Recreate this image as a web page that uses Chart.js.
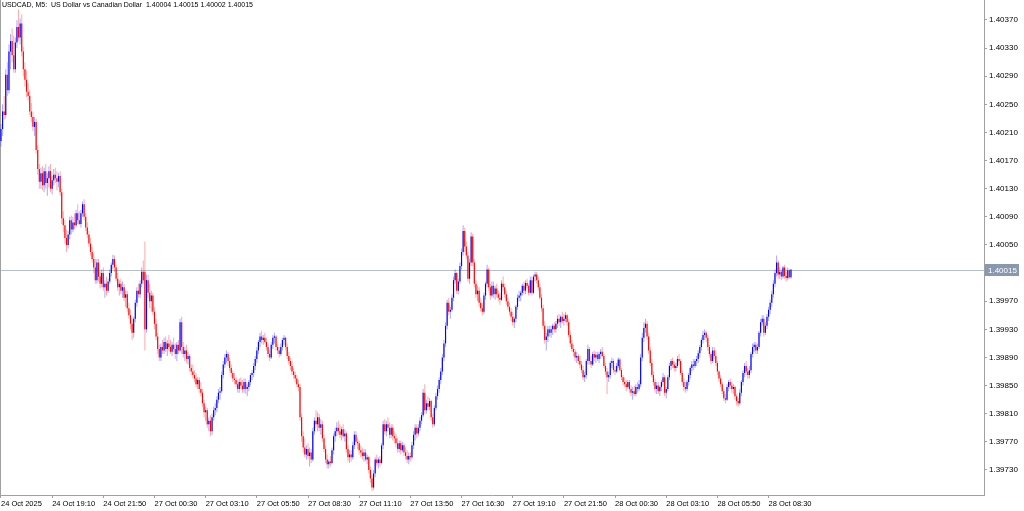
<!DOCTYPE html>
<html>
<head>
<meta charset="utf-8">
<title>USDCAD M5</title>
<script src="https://cdn.jsdelivr.net/npm/chart.js@4.4.1/dist/chart.umd.min.js"></script>
<style>
  html, body { margin: 0; padding: 0; background: #fff; }
  #wrap { width: 1024px; height: 511px; position: relative; }
</style>
</head>
<body>
<div id="wrap"><canvas id="chart"></canvas></div>
<script>
const symbolTitle = 'USDCAD, M5:  US Dollar vs Canadian Dollar  1.40004 1.40015 1.40002 1.40015';
const lastPrice = 1.40015;

// 5 minute bars, 24 Oct 16:30 .. 28 Oct 09:40 (one bar per entry)
const opens = [
  1.40198,1.40215,1.40240,1.40235,1.40292,1.40270,1.40325,1.40340,1.40320,1.40300,
  1.40338,1.40360,1.40345,1.40365,1.40325,1.40300,1.40285,1.40268,1.40262,1.40240,
  1.40232,1.40218,1.40225,1.40185,1.40158,1.40140,1.40152,1.40135,1.40155,1.40138,
  1.40145,1.40155,1.40130,1.40142,1.40150,1.40145,1.40140,1.40148,1.40125,1.40088,
  1.40078,1.40060,1.40050,1.40065,1.40085,1.40072,1.40082,1.40078,1.40095,1.40085,
  1.40080,1.40095,1.40108,1.40090,1.40075,1.40065,1.40052,1.40040,1.40030,1.40018,
  1.40000,1.40025,1.40005,1.39995,1.40010,1.39990,1.39995,1.39985,1.39998,1.40010,
  1.40022,1.40030,1.40018,1.40002,1.39990,1.39995,1.39985,1.39990,1.39975,1.39980,
  1.39960,1.39950,1.39938,1.39925,1.39945,1.39968,1.39985,1.39980,1.39995,1.40012,
  1.40012,1.39930,1.40000,1.39982,1.39970,1.39978,1.39955,1.39938,1.39920,1.39902,
  1.39890,1.39905,1.39900,1.39912,1.39902,1.39910,1.39905,1.39898,1.39908,1.39902,
  1.39895,1.39908,1.39900,1.39940,1.39905,1.39895,1.39900,1.39888,1.39892,1.39875,
  1.39870,1.39865,1.39860,1.39852,1.39858,1.39845,1.39840,1.39825,1.39812,1.39815,
  1.39795,1.39800,1.39785,1.39805,1.39815,1.39818,1.39830,1.39840,1.39842,1.39865,
  1.39880,1.39890,1.39895,1.39885,1.39875,1.39868,1.39860,1.39858,1.39852,1.39845,
  1.39855,1.39850,1.39845,1.39855,1.39845,1.39848,1.39855,1.39865,1.39868,1.39878,
  1.39888,1.39900,1.39912,1.39920,1.39915,1.39918,1.39912,1.39905,1.39895,1.39890,
  1.39908,1.39918,1.39920,1.39905,1.39900,1.39895,1.39905,1.39915,1.39918,1.39905,
  1.39892,1.39885,1.39878,1.39870,1.39865,1.39860,1.39852,1.39848,1.39805,1.39778,
  1.39762,1.39752,1.39760,1.39750,1.39755,1.39745,1.39785,1.39800,1.39795,1.39805,
  1.39790,1.39795,1.39775,1.39760,1.39745,1.39738,1.39742,1.39740,1.39758,1.39778,
  1.39785,1.39790,1.39785,1.39780,1.39788,1.39778,1.39782,1.39760,1.39748,1.39752,
  1.39748,1.39765,1.39780,1.39770,1.39768,1.39758,1.39755,1.39750,1.39755,1.39745,
  1.39748,1.39730,1.39718,1.39705,1.39725,1.39745,1.39740,1.39745,1.39740,1.39765,
  1.39795,1.39785,1.39795,1.39790,1.39780,1.39790,1.39778,1.39775,1.39768,1.39760,
  1.39768,1.39758,1.39765,1.39755,1.39750,1.39745,1.39750,1.39748,1.39765,1.39780,
  1.39790,1.39782,1.39790,1.39800,1.39808,1.39840,1.39815,1.39825,1.39820,1.39828,
  1.39805,1.39795,1.39818,1.39835,1.39845,1.39858,1.39870,1.39890,1.39910,1.39935,
  1.39968,1.39955,1.39958,1.39975,1.40000,1.40010,1.39985,1.39998,1.40020,1.40040,
  1.40070,1.40048,1.40035,1.40002,1.40025,1.40062,1.40025,1.39995,1.39980,1.39985,
  1.39968,1.39960,1.39955,1.39978,1.39995,1.40015,1.39990,1.39978,1.39992,1.39980,
  1.39988,1.39980,1.39975,1.39972,1.39995,1.39990,1.39980,1.39970,1.39962,1.39955,
  1.39948,1.39940,1.39945,1.39962,1.39975,1.39978,1.39982,1.39992,1.39985,1.39996,
  1.39992,1.39982,1.40000,1.39982,1.40005,1.40008,1.40000,1.39990,1.39975,1.39960,
  1.39935,1.39915,1.39920,1.39930,1.39925,1.39930,1.39935,1.39930,1.39938,1.39945,
  1.39940,1.39948,1.39942,1.39945,1.39950,1.39940,1.39922,1.39910,1.39902,1.39898,
  1.39890,1.39892,1.39885,1.39880,1.39872,1.39862,1.39865,1.39885,1.39902,1.39885,
  1.39880,1.39895,1.39890,1.39894,1.39888,1.39895,1.39898,1.39892,1.39878,1.39870,
  1.39862,1.39865,1.39882,1.39885,1.39872,1.39870,1.39878,1.39887,1.39872,1.39862,
  1.39855,1.39852,1.39848,1.39855,1.39845,1.39840,1.39842,1.39838,1.39848,1.39845,
  1.39852,1.39890,1.39918,1.39932,1.39938,1.39920,1.39900,1.39882,1.39865,1.39855,
  1.39845,1.39850,1.39842,1.39848,1.39855,1.39862,1.39840,1.39845,1.39862,1.39878,
  1.39885,1.39880,1.39875,1.39878,1.39888,1.39885,1.39868,1.39855,1.39848,1.39845,
  1.39855,1.39865,1.39875,1.39880,1.39878,1.39885,1.39888,1.39896,1.39905,1.39915,
  1.39922,1.39925,1.39918,1.39905,1.39895,1.39885,1.39900,1.39892,1.39882,1.39870,
  1.39860,1.39852,1.39842,1.39832,1.39830,1.39848,1.39855,1.39850,1.39845,1.39848,
  1.39835,1.39828,1.39825,1.39840,1.39855,1.39868,1.39878,1.39870,1.39865,1.39872,
  1.39895,1.39905,1.39908,1.39900,1.39905,1.39925,1.39940,1.39945,1.39925,1.39935,
  1.39948,1.39958,1.39968,1.39980,1.39995,1.40010,1.40025,1.40008,1.40012,1.40005,
  1.40018,1.40006,1.40003,1.40014,1.40004
];

const highs = [
  1.40222,1.40250,1.40262,1.40300,1.40310,1.40335,1.40350,1.40358,1.40348,1.40345,
  1.40370,1.40385,1.40372,1.40378,1.40332,1.40310,1.40298,1.40280,1.40270,1.40252,
  1.40240,1.40232,1.40230,1.40192,1.40165,1.40160,1.40162,1.40160,1.40165,1.40152,
  1.40162,1.40165,1.40148,1.40158,1.40160,1.40155,1.40152,1.40155,1.40130,1.40098,
  1.40085,1.40072,1.40070,1.40090,1.40092,1.40090,1.40095,1.40100,1.40108,1.40098,
  1.40100,1.40112,1.40115,1.40095,1.40082,1.40070,1.40060,1.40048,1.40038,1.40030,
  1.40030,1.40030,1.40012,1.40015,1.40018,1.40000,1.40005,1.40002,1.40015,1.40025,
  1.40036,1.40035,1.40022,1.40010,1.40000,1.40002,1.39998,1.39995,1.39985,1.39985,
  1.39968,1.39958,1.39945,1.39948,1.39972,1.39990,1.39995,1.40000,1.40018,1.40028,
  1.40055,1.40008,1.40008,1.39995,1.39985,1.39982,1.39962,1.39945,1.39925,1.39908,
  1.39910,1.39915,1.39918,1.39920,1.39915,1.39922,1.39915,1.39912,1.39918,1.39910,
  1.39912,1.39915,1.39945,1.39948,1.39912,1.39905,1.39908,1.39898,1.39895,1.39880,
  1.39880,1.39872,1.39868,1.39862,1.39862,1.39855,1.39845,1.39830,1.39820,1.39818,
  1.39805,1.39808,1.39810,1.39820,1.39825,1.39835,1.39845,1.39848,1.39870,1.39885,
  1.39895,1.39900,1.39898,1.39890,1.39880,1.39872,1.39868,1.39862,1.39858,1.39860,
  1.39862,1.39858,1.39860,1.39860,1.39852,1.39858,1.39868,1.39872,1.39882,1.39892,
  1.39905,1.39915,1.39925,1.39928,1.39922,1.39925,1.39918,1.39910,1.39900,1.39912,
  1.39922,1.39925,1.39922,1.39910,1.39905,1.39910,1.39918,1.39922,1.39920,1.39910,
  1.39898,1.39890,1.39885,1.39875,1.39870,1.39865,1.39858,1.39852,1.39810,1.39785,
  1.39775,1.39765,1.39768,1.39762,1.39760,1.39790,1.39805,1.39815,1.39812,1.39810,
  1.39802,1.39800,1.39780,1.39765,1.39752,1.39745,1.39750,1.39762,1.39782,1.39790,
  1.39798,1.39800,1.39795,1.39792,1.39795,1.39788,1.39785,1.39765,1.39758,1.39758,
  1.39770,1.39785,1.39785,1.39775,1.39772,1.39765,1.39762,1.39760,1.39760,1.39752,
  1.39750,1.39735,1.39722,1.39730,1.39748,1.39752,1.39748,1.39750,1.39768,1.39800,
  1.39802,1.39800,1.39805,1.39798,1.39795,1.39795,1.39785,1.39782,1.39775,1.39772,
  1.39772,1.39770,1.39768,1.39762,1.39758,1.39755,1.39755,1.39770,1.39785,1.39795,
  1.39795,1.39795,1.39805,1.39812,1.39845,1.39852,1.39830,1.39835,1.39832,1.39830,
  1.39810,1.39822,1.39840,1.39850,1.39862,1.39875,1.39895,1.39915,1.39940,1.39972,
  1.39975,1.39962,1.39980,1.40005,1.40015,1.40012,1.40002,1.40025,1.40045,1.40078,
  1.40075,1.40055,1.40040,1.40030,1.40068,1.40066,1.40030,1.40000,1.39992,1.39990,
  1.39975,1.39968,1.39982,1.39998,1.40022,1.40018,1.39995,1.39998,1.39998,1.39992,
  1.39995,1.39985,1.39982,1.40000,1.40005,1.39995,1.39985,1.39975,1.39968,1.39960,
  1.39955,1.39948,1.39965,1.39980,1.39985,1.39985,1.39995,1.39998,1.40000,1.40002,
  1.39995,1.40005,1.40005,1.40008,1.40012,1.40012,1.40005,1.39995,1.39980,1.39965,
  1.39942,1.39925,1.39935,1.39935,1.39935,1.39938,1.39940,1.39942,1.39950,1.39952,
  1.39950,1.39955,1.39952,1.39955,1.39952,1.39945,1.39928,1.39915,1.39908,1.39902,
  1.39898,1.39895,1.39892,1.39885,1.39878,1.39870,1.39888,1.39908,1.39905,1.39892,
  1.39898,1.39900,1.39898,1.39898,1.39898,1.39902,1.39905,1.39895,1.39882,1.39875,
  1.39870,1.39885,1.39890,1.39888,1.39878,1.39882,1.39890,1.39890,1.39875,1.39865,
  1.39862,1.39858,1.39858,1.39858,1.39850,1.39848,1.39850,1.39852,1.39855,1.39858,
  1.39895,1.39925,1.39940,1.39945,1.39942,1.39925,1.39905,1.39888,1.39870,1.39860,
  1.39855,1.39855,1.39850,1.39858,1.39868,1.39865,1.39848,1.39865,1.39882,1.39888,
  1.39890,1.39885,1.39882,1.39892,1.39895,1.39888,1.39872,1.39860,1.39855,1.39858,
  1.39868,1.39878,1.39885,1.39888,1.39888,1.39892,1.39900,1.39908,1.39918,1.39928,
  1.39930,1.39928,1.39922,1.39908,1.39898,1.39905,1.39905,1.39900,1.39885,1.39872,
  1.39865,1.39855,1.39845,1.39838,1.39852,1.39858,1.39860,1.39855,1.39852,1.39850,
  1.39838,1.39832,1.39845,1.39858,1.39872,1.39882,1.39885,1.39875,1.39878,1.39898,
  1.39910,1.39912,1.39912,1.39910,1.39928,1.39945,1.39950,1.39950,1.39940,1.39952,
  1.39962,1.39972,1.39985,1.40000,1.40015,1.40035,1.40028,1.40018,1.40015,1.40020,
  1.40022,1.40012,1.40018,1.40016,1.40015
];

const lows = [
  1.40190,1.40205,1.40228,1.40230,1.40262,1.40265,1.40300,1.40310,1.40295,1.40295,
  1.40330,1.40340,1.40335,1.40318,1.40290,1.40275,1.40260,1.40255,1.40235,1.40225,
  1.40212,1.40205,1.40180,1.40150,1.40130,1.40130,1.40128,1.40125,1.40130,1.40120,
  1.40132,1.40125,1.40122,1.40135,1.40138,1.40128,1.40132,1.40120,1.40080,1.40068,
  1.40052,1.40040,1.40045,1.40058,1.40065,1.40068,1.40072,1.40075,1.40080,1.40078,
  1.40075,1.40090,1.40085,1.40070,1.40060,1.40048,1.40035,1.40025,1.40010,1.39995,
  1.39995,1.39998,1.39988,1.39990,1.39985,1.39975,1.39978,1.39982,1.39995,1.40005,
  1.40015,1.40012,1.39998,1.39985,1.39978,1.39980,1.39975,1.39970,1.39962,1.39955,
  1.39945,1.39930,1.39915,1.39918,1.39940,1.39962,1.39975,1.39975,1.39990,1.39995,
  1.39900,1.39925,1.39975,1.39960,1.39955,1.39950,1.39930,1.39915,1.39895,1.39885,
  1.39885,1.39895,1.39895,1.39898,1.39892,1.39900,1.39895,1.39892,1.39898,1.39888,
  1.39885,1.39895,1.39898,1.39895,1.39890,1.39885,1.39882,1.39880,1.39870,1.39865,
  1.39860,1.39855,1.39848,1.39845,1.39840,1.39835,1.39820,1.39805,1.39800,1.39790,
  1.39785,1.39778,1.39780,1.39800,1.39808,1.39812,1.39825,1.39830,1.39840,1.39860,
  1.39875,1.39882,1.39878,1.39870,1.39862,1.39855,1.39852,1.39848,1.39840,1.39840,
  1.39845,1.39840,1.39840,1.39838,1.39835,1.39842,1.39850,1.39858,1.39862,1.39872,
  1.39882,1.39895,1.39905,1.39910,1.39908,1.39910,1.39900,1.39890,1.39885,1.39888,
  1.39902,1.39910,1.39900,1.39895,1.39890,1.39892,1.39900,1.39908,1.39900,1.39888,
  1.39880,1.39872,1.39865,1.39860,1.39855,1.39848,1.39842,1.39800,1.39770,1.39755,
  1.39748,1.39745,1.39745,1.39735,1.39740,1.39742,1.39780,1.39790,1.39785,1.39785,
  1.39780,1.39770,1.39755,1.39740,1.39732,1.39732,1.39735,1.39738,1.39752,1.39770,
  1.39778,1.39780,1.39775,1.39772,1.39775,1.39770,1.39755,1.39742,1.39740,1.39742,
  1.39745,1.39760,1.39765,1.39760,1.39752,1.39748,1.39745,1.39742,1.39742,1.39738,
  1.39725,1.39712,1.39700,1.39702,1.39720,1.39735,1.39732,1.39735,1.39738,1.39760,
  1.39780,1.39778,1.39785,1.39775,1.39775,1.39772,1.39768,1.39762,1.39755,1.39755,
  1.39752,1.39755,1.39750,1.39745,1.39740,1.39738,1.39742,1.39745,1.39760,1.39772,
  1.39775,1.39778,1.39785,1.39795,1.39805,1.39810,1.39810,1.39815,1.39815,1.39800,
  1.39790,1.39792,1.39815,1.39830,1.39840,1.39852,1.39865,1.39885,1.39905,1.39930,
  1.39950,1.39945,1.39955,1.39970,1.39995,1.39980,1.39980,1.39995,1.40015,1.40035,
  1.40040,1.40030,1.39998,1.39995,1.40020,1.40020,1.39990,1.39975,1.39970,1.39962,
  1.39955,1.39950,1.39952,1.39972,1.39990,1.39985,1.39972,1.39975,1.39975,1.39972,
  1.39975,1.39970,1.39965,1.39970,1.39985,1.39975,1.39965,1.39958,1.39950,1.39942,
  1.39935,1.39932,1.39940,1.39958,1.39970,1.39970,1.39978,1.39980,1.39980,1.39988,
  1.39978,1.39980,1.39978,1.39980,1.39998,1.39995,1.39985,1.39972,1.39955,1.39930,
  1.39910,1.39900,1.39912,1.39920,1.39918,1.39922,1.39925,1.39925,1.39932,1.39935,
  1.39932,1.39938,1.39935,1.39940,1.39935,1.39918,1.39905,1.39898,1.39892,1.39885,
  1.39882,1.39880,1.39875,1.39868,1.39858,1.39855,1.39860,1.39880,1.39880,1.39875,
  1.39878,1.39885,1.39882,1.39885,1.39882,1.39888,1.39890,1.39875,1.39865,1.39838,
  1.39855,1.39860,1.39875,1.39868,1.39865,1.39868,1.39875,1.39870,1.39858,1.39850,
  1.39848,1.39842,1.39845,1.39840,1.39835,1.39830,1.39835,1.39835,1.39840,1.39842,
  1.39848,1.39885,1.39912,1.39925,1.39915,1.39895,1.39878,1.39862,1.39850,1.39840,
  1.39838,1.39838,1.39835,1.39842,1.39850,1.39835,1.39832,1.39842,1.39858,1.39872,
  1.39875,1.39870,1.39870,1.39875,1.39880,1.39865,1.39850,1.39842,1.39840,1.39842,
  1.39850,1.39860,1.39870,1.39872,1.39875,1.39878,1.39882,1.39890,1.39900,1.39910,
  1.39915,1.39912,1.39900,1.39890,1.39880,1.39882,1.39888,1.39878,1.39865,1.39855,
  1.39848,1.39838,1.39828,1.39825,1.39828,1.39842,1.39845,1.39840,1.39838,1.39830,
  1.39822,1.39820,1.39822,1.39835,1.39850,1.39862,1.39865,1.39860,1.39860,1.39868,
  1.39890,1.39898,1.39895,1.39895,1.39902,1.39920,1.39935,1.39920,1.39922,1.39930,
  1.39942,1.39952,1.39962,1.39975,1.39990,1.40005,1.40002,1.40002,1.40000,1.40002,
  1.40002,1.39998,1.40000,1.40002,1.40002
];

const closes = [
  1.40215,1.40240,1.40235,1.40292,1.40270,1.40325,1.40340,1.40320,1.40300,1.40338,
  1.40360,1.40345,1.40365,1.40325,1.40300,1.40285,1.40268,1.40262,1.40240,1.40232,
  1.40218,1.40225,1.40185,1.40158,1.40140,1.40152,1.40135,1.40155,1.40138,1.40145,
  1.40155,1.40130,1.40142,1.40150,1.40145,1.40140,1.40148,1.40125,1.40088,1.40078,
  1.40060,1.40050,1.40065,1.40085,1.40072,1.40082,1.40078,1.40095,1.40085,1.40080,
  1.40095,1.40108,1.40090,1.40075,1.40065,1.40052,1.40040,1.40030,1.40018,1.40000,
  1.40025,1.40005,1.39995,1.40010,1.39990,1.39995,1.39985,1.39998,1.40010,1.40022,
  1.40030,1.40018,1.40002,1.39990,1.39995,1.39985,1.39990,1.39975,1.39980,1.39960,
  1.39950,1.39938,1.39925,1.39945,1.39968,1.39985,1.39980,1.39995,1.40012,1.40000,
  1.39930,1.40000,1.39982,1.39970,1.39978,1.39955,1.39938,1.39920,1.39902,1.39890,
  1.39905,1.39900,1.39912,1.39902,1.39910,1.39905,1.39898,1.39908,1.39902,1.39895,
  1.39908,1.39900,1.39940,1.39905,1.39895,1.39900,1.39888,1.39892,1.39875,1.39870,
  1.39865,1.39860,1.39852,1.39858,1.39845,1.39840,1.39825,1.39812,1.39815,1.39795,
  1.39800,1.39785,1.39805,1.39815,1.39818,1.39830,1.39840,1.39842,1.39865,1.39880,
  1.39890,1.39895,1.39885,1.39875,1.39868,1.39860,1.39858,1.39852,1.39845,1.39855,
  1.39850,1.39845,1.39855,1.39845,1.39848,1.39855,1.39865,1.39868,1.39878,1.39888,
  1.39900,1.39912,1.39920,1.39915,1.39918,1.39912,1.39905,1.39895,1.39890,1.39908,
  1.39918,1.39920,1.39905,1.39900,1.39895,1.39905,1.39915,1.39918,1.39905,1.39892,
  1.39885,1.39878,1.39870,1.39865,1.39860,1.39852,1.39848,1.39805,1.39778,1.39762,
  1.39752,1.39760,1.39750,1.39755,1.39745,1.39785,1.39800,1.39795,1.39805,1.39790,
  1.39795,1.39775,1.39760,1.39745,1.39738,1.39742,1.39740,1.39758,1.39778,1.39785,
  1.39790,1.39785,1.39780,1.39788,1.39778,1.39782,1.39760,1.39748,1.39752,1.39748,
  1.39765,1.39780,1.39770,1.39768,1.39758,1.39755,1.39750,1.39755,1.39745,1.39748,
  1.39730,1.39718,1.39705,1.39725,1.39745,1.39740,1.39745,1.39740,1.39765,1.39795,
  1.39785,1.39795,1.39790,1.39780,1.39790,1.39778,1.39775,1.39768,1.39760,1.39768,
  1.39758,1.39765,1.39755,1.39750,1.39745,1.39750,1.39748,1.39765,1.39780,1.39790,
  1.39782,1.39790,1.39800,1.39808,1.39840,1.39815,1.39825,1.39820,1.39828,1.39805,
  1.39795,1.39818,1.39835,1.39845,1.39858,1.39870,1.39890,1.39910,1.39935,1.39968,
  1.39955,1.39958,1.39975,1.40000,1.40010,1.39985,1.39998,1.40020,1.40040,1.40070,
  1.40048,1.40035,1.40002,1.40025,1.40062,1.40025,1.39995,1.39980,1.39985,1.39968,
  1.39960,1.39955,1.39978,1.39995,1.40015,1.39990,1.39978,1.39992,1.39980,1.39988,
  1.39980,1.39975,1.39972,1.39995,1.39990,1.39980,1.39970,1.39962,1.39955,1.39948,
  1.39940,1.39945,1.39962,1.39975,1.39978,1.39982,1.39992,1.39985,1.39996,1.39992,
  1.39982,1.40000,1.39982,1.40005,1.40008,1.40000,1.39990,1.39975,1.39960,1.39935,
  1.39915,1.39920,1.39930,1.39925,1.39930,1.39935,1.39930,1.39938,1.39945,1.39940,
  1.39948,1.39942,1.39945,1.39950,1.39940,1.39922,1.39910,1.39902,1.39898,1.39890,
  1.39892,1.39885,1.39880,1.39872,1.39862,1.39865,1.39885,1.39902,1.39885,1.39880,
  1.39895,1.39890,1.39894,1.39888,1.39895,1.39898,1.39892,1.39878,1.39870,1.39862,
  1.39865,1.39882,1.39885,1.39872,1.39870,1.39878,1.39887,1.39872,1.39862,1.39855,
  1.39852,1.39848,1.39855,1.39845,1.39840,1.39842,1.39838,1.39848,1.39845,1.39852,
  1.39890,1.39918,1.39932,1.39938,1.39920,1.39900,1.39882,1.39865,1.39855,1.39845,
  1.39850,1.39842,1.39848,1.39855,1.39862,1.39840,1.39845,1.39862,1.39878,1.39885,
  1.39880,1.39875,1.39878,1.39888,1.39885,1.39868,1.39855,1.39848,1.39845,1.39855,
  1.39865,1.39875,1.39880,1.39878,1.39885,1.39888,1.39896,1.39905,1.39915,1.39922,
  1.39925,1.39918,1.39905,1.39895,1.39885,1.39900,1.39892,1.39882,1.39870,1.39860,
  1.39852,1.39842,1.39832,1.39830,1.39848,1.39855,1.39850,1.39845,1.39848,1.39835,
  1.39828,1.39825,1.39840,1.39855,1.39868,1.39878,1.39870,1.39865,1.39872,1.39895,
  1.39905,1.39908,1.39900,1.39905,1.39925,1.39940,1.39945,1.39925,1.39935,1.39948,
  1.39958,1.39968,1.39980,1.39995,1.40010,1.40025,1.40008,1.40012,1.40005,1.40018,
  1.40006,1.40003,1.40014,1.40004,1.40015
];

// time axis: bar index of each label, and the label text
const tickBars = [0, 32, 64, 96, 128, 160, 192, 224, 256, 288, 320, 352, 384, 416, 448, 480];
const tickLabels = [
  '24 Oct 2025', '24 Oct 19:10', '24 Oct 21:50', '27 Oct 00:30', '27 Oct 03:10',
  '27 Oct 05:50', '27 Oct 08:30', '27 Oct 11:10', '27 Oct 13:50', '27 Oct 16:30',
  '27 Oct 19:10', '27 Oct 21:50', '28 Oct 00:30', '28 Oct 03:10', '28 Oct 05:50',
  '28 Oct 08:30'
];
const priceTicks = [
  1.39730, 1.39770, 1.39810, 1.39850, 1.39890, 1.39930, 1.39970, 1.40010, 1.40050,
  1.40090, 1.40130, 1.40170, 1.40210, 1.40250, 1.40290, 1.40330, 1.40370
];

const FONT = '"Liberation Sans", Arial, sans-serif';
const UP = '#0000ff';
const DOWN = '#ff0000';

const isUp = closes.map((c, i) => c >= opens[i]);
const bodies = closes.map((c, i) => ({ x: i, y: [opens[i], c] }));
const wicks = closes.map((c, i) => ({ x: i, y: [lows[i], highs[i]] }));

// scales must not reserve room for half labels: the plot fills the frame
function noPadding(s) {
  s.paddingTop = 0;
  s.paddingBottom = 0;
  s.paddingLeft = 0;
  s.paddingRight = 0;
}

const mtOverlay = {
  id: 'mtOverlay',
  beforeDatasetsDraw(chart) {
    const { ctx, chartArea, scales } = chart;
    const py = Math.round(scales.y.getPixelForValue(lastPrice)) + 0.5;
    ctx.save();
    ctx.lineWidth = 1;
    ctx.strokeStyle = '#b6c0cc';
    ctx.beginPath();
    ctx.moveTo(chartArea.left, py);
    ctx.lineTo(chartArea.right, py);
    ctx.stroke();
    ctx.strokeStyle = '#a0a0a0';
    ctx.beginPath();
    ctx.moveTo(chartArea.left + 0.5, chartArea.top);
    ctx.lineTo(chartArea.left + 0.5, chartArea.bottom);
    ctx.stroke();
    ctx.restore();
  },
  afterDraw(chart) {
    const { ctx, chartArea, scales } = chart;
    const py = Math.round(scales.y.getPixelForValue(lastPrice));
    ctx.save();
    // current price box on the price axis
    ctx.fillStyle = '#8898ae';
    ctx.fillRect(chartArea.right + 1, py - 6, 34, 12);
    ctx.fillStyle = '#fff';
    ctx.font = '8px ' + FONT;
    ctx.textBaseline = 'middle';
    ctx.fillText(lastPrice.toFixed(5), chartArea.right + 4, py + 0.5);
    // symbol line
    ctx.fillStyle = '#000';
    ctx.font = '7px ' + FONT;
    ctx.textBaseline = 'top';
    ctx.fillText(symbolTitle, 2, 2);
    ctx.restore();
  }
};

new Chart(document.getElementById('chart'), {
  type: 'bar',
  data: {
    datasets: [
      {
        data: bodies,
        backgroundColor: isUp.map(u => u ? UP : DOWN),
        grouped: false,
        maxBarThickness: 1.6,
        minBarLength: 1,
        borderWidth: 0
      },
      {
        data: wicks,
        backgroundColor: isUp.map(u => u ? 'rgba(40,40,255,0.4)' : 'rgba(255,40,40,0.4)'),
        grouped: false,
        maxBarThickness: 1,
        borderWidth: 0
      }
    ]
  },
  options: {
    responsive: true,
    maintainAspectRatio: false,
    animation: false,
    events: [],
    layout: { padding: 0 },
    plugins: {
      legend: { display: false },
      tooltip: { enabled: false }
    },
    scales: {
      x: {
        type: 'linear',
        offset: false,
        min: -0.6,
        max: 614.7,
        grid: { offset: false, drawOnChartArea: false, tickLength: 3, color: '#a0a0a0' },
        border: { color: '#a0a0a0' },
        ticks: {
          align: 'start',
          autoSkip: false,
          maxRotation: 0,
          padding: 1,
          color: '#000',
          font: { family: FONT, size: 7.5 },
          callback: (v, i) => tickLabels[i]
        },
        afterBuildTicks: s => { s.ticks = tickBars.map(v => ({ value: v })); },
        afterFit: s => { s.height = 16; noPadding(s); }
      },
      y: {
        position: 'right',
        min: 1.396944,
        max: 1.403984,
        grid: { drawOnChartArea: false, tickLength: 3, color: '#a0a0a0' },
        border: { color: '#a0a0a0' },
        ticks: {
          padding: 2,
          color: '#000',
          font: { family: FONT, size: 8 },
          callback: v => v.toFixed(5)
        },
        afterBuildTicks: s => { s.ticks = priceTicks.map(v => ({ value: v })); },
        afterFit: s => { s.width = 40; noPadding(s); }
      }
    }
  },
  plugins: [mtOverlay]
});
</script>
</body>
</html>
